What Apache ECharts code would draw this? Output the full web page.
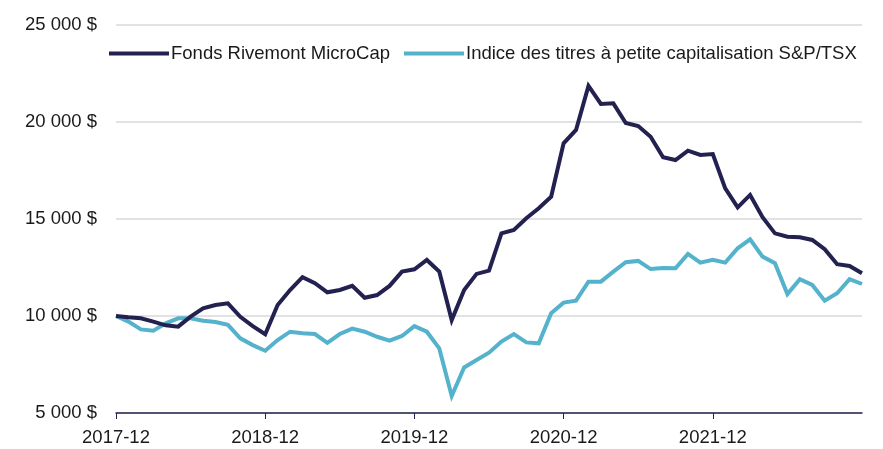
<!DOCTYPE html>
<html>
<head>
	<meta charset="utf-8"/>
	<title>Fonds Rivemont MicroCap</title>
	<style>
		* {
			margin: 0;
			padding: 0;
		}
		body {
			background: #fff;
		}
	</style>
</head>
<body>

	<div style="width: 883px;height:449px;background: #fff;" id="myChart"></div>

	<script src="https://cdn.jsdelivr.net/npm/echarts@6/dist/echarts.min.js"></script>
	<script>
		// mois (fin de mois), 2017-12 a 2022-12
		var months = [
			'2017-12','2018-01','2018-02','2018-03','2018-04','2018-05','2018-06','2018-07','2018-08','2018-09','2018-10','2018-11',
			'2018-12','2019-01','2019-02','2019-03','2019-04','2019-05','2019-06','2019-07','2019-08','2019-09','2019-10','2019-11',
			'2019-12','2020-01','2020-02','2020-03','2020-04','2020-05','2020-06','2020-07','2020-08','2020-09','2020-10','2020-11',
			'2020-12','2021-01','2021-02','2021-03','2021-04','2021-05','2021-06','2021-07','2021-08','2021-09','2021-10','2021-11',
			'2021-12','2022-01','2022-02','2022-03','2022-04','2022-05','2022-06','2022-07','2022-08','2022-09','2022-10','2022-11',
			'2022-12'
		];

		var fondsValues = [
			10000, 9930, 9880, 9710, 9520, 9450, 9970, 10400, 10570, 10650, 9960, 9480,
			9060, 10570, 11340, 12000, 11690, 11220, 11340, 11560, 10940, 11080, 11550, 12290,
			12410, 12890, 12290, 9790, 11340, 12170, 12340, 14260, 14430, 15040, 15550, 16150,
			18900, 19590, 21860, 20930, 20960, 19950, 19790, 19240, 18180, 18040, 18520, 18300,
			18350, 16580, 15600, 16240, 15090, 14260, 14090, 14060, 13920, 13440, 12670, 12580,
			12200
		];

		var indiceValues = [
			10000, 9710, 9310, 9240, 9620, 9880, 9880, 9760, 9690, 9540, 8850, 8500,
			8210, 8760, 9190, 9110, 9070, 8620, 9070, 9350, 9190, 8930, 8730, 8970,
			9480, 9190, 8330, 5880, 7350, 7730, 8110, 8680, 9070, 8640, 8590, 10140,
			10690, 10790, 11770, 11770, 12290, 12770, 12840, 12420, 12470, 12460, 13200, 12750,
			12900, 12750, 13490, 13950, 13060, 12720, 11130, 11900, 11600, 10790, 11170, 11900,
			11650
		];

		var seriesNames = ['Fonds Rivemont MicroCap', 'Indice des titres à petite capitalisation S&P/TSX'];
		var yTicks = [5000, 10000, 15000, 20000, 25000];

		var FONT = '"Liberation Sans", Arial, sans-serif';

		function fmtDollar(v) {
			return String(v).replace(/\B(?=(\d{3})+(?!\d))/g, ' ') + ' $';
		}

		// une etiquette par annee, sauf la derniere
		function yearly(index) {
			return index % 12 === 0 && index < months.length - 1;
		}

		var myChart = echarts.init(document.getElementById('myChart'));

		var option = {
			animation: false,
			textStyle: {
				fontFamily: FONT
			},
			grid: {
				left: 116,
				right: 21,
				top: 25,
				bottom: 36
			},
			legend: {
				data: seriesNames,
				left: 104,
				top: 39,
				icon: 'rect',
				itemWidth: 60,
				itemHeight: 4,
				itemGap: 14,
				textStyle: {
					fontFamily: FONT,
					fontSize: 18.5,
					color: '#1a1a1a',
					padding: [0, 0, 0, -3]
				}
			},
			xAxis: {
				type: 'category',
				data: months,
				boundaryGap: false,
				axisLine: {
					lineStyle: {
						color: '#23234f',
						width: 1.5
					}
				},
				axisTick: {
					interval: function (i) { return yearly(i); },
					length: 6,
					lineStyle: {
						color: '#23234f',
						width: 1
					}
				},
				axisLabel: {
					interval: function (i) { return yearly(i); },
					color: '#1a1a1a',
					fontSize: 18.5,
					margin: 15
				},
				splitLine: {
					show: false
				}
			},
			yAxis: {
				type: 'value',
				min: yTicks[0],
				max: yTicks[yTicks.length - 1],
				interval: 5000,
				axisLine: {
					show: false
				},
				axisTick: {
					show: false
				},
				axisLabel: {
					formatter: fmtDollar,
					color: '#1a1a1a',
					fontSize: 18.5,
					margin: 19
				},
				splitLine: {
					lineStyle: {
						color: '#d9d9d9',
						width: 1.5
					}
				}
			},
			series: [
				{
					name: seriesNames[0],
					type: 'line',
					data: fondsValues,
					symbol: 'none',
					color: '#22214f',
					lineStyle: {
						width: 4,
						join: 'miter'
					},
					z: 3
				},
				{
					name: seriesNames[1],
					type: 'line',
					data: indiceValues,
					symbol: 'none',
					color: '#55b2cc',
					lineStyle: {
						width: 4,
						join: 'miter'
					},
					z: 2
				}
			]
		};

		myChart.setOption(option);
	</script>
</body>
</html>
